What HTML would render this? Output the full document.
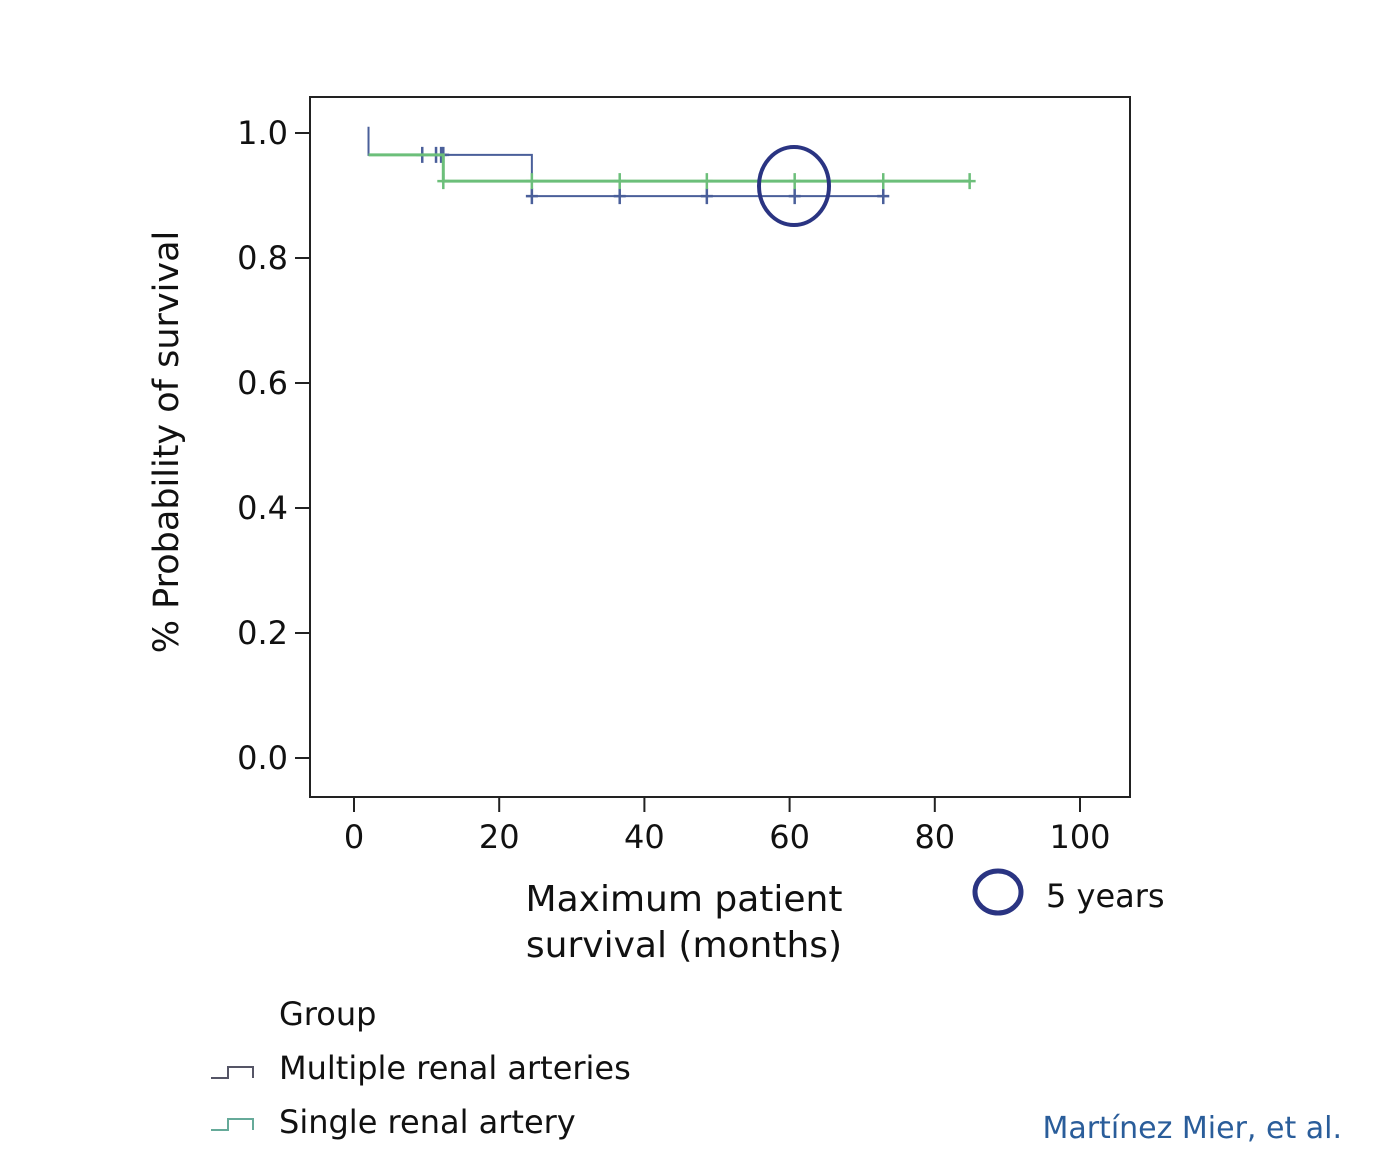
<!DOCTYPE html>
<html><head><meta charset="utf-8"><style>
body{margin:0;background:#fff;}
svg{display:block;font-family:"DejaVu Sans","Liberation Sans",sans-serif;}
</style></head><body>
<svg id="chart" width="1377" height="1155" viewBox="0 0 1377 1155">
<rect x="310" y="97" width="820" height="700" fill="none" stroke="#222" stroke-width="2"/>
<g id="axes"></g>
<g id="series"></g>
<ellipse cx="794" cy="186" rx="35" ry="39" fill="none" stroke="#2a3482" stroke-width="4"/>
<text x="0" y="0" transform="translate(178 442) rotate(-90)" font-size="35" fill="#111" text-anchor="middle" font-weight="500">% Probability of survival</text>
<text x="684" y="911" font-size="36" fill="#111" text-anchor="middle" font-weight="500"><tspan x="684">Maximum patient</tspan><tspan x="684" dy="46">survival (months)</tspan></text>
<ellipse cx="998" cy="892" rx="23" ry="21" fill="none" stroke="#2a3482" stroke-width="5"/>
<text x="1046" y="907" font-size="32" fill="#111">5 years</text>
<text x="279" y="1025" font-size="32" fill="#111">Group</text>
<path d="M211 1078 H228 V1067 H253 V1078" fill="none" stroke="#556" stroke-width="2"/>
<text x="279" y="1079" font-size="32" fill="#111">Multiple renal arteries</text>
<path d="M211 1130 H228 V1119 H253 V1130" fill="none" stroke="#6a9" stroke-width="2"/>
<text x="279" y="1133" font-size="32" fill="#111">Single renal artery</text>
<text x="1342" y="1138" font-size="30" fill="#2a5d9a" text-anchor="end">Martínez Mier, et al.</text>
</svg>
<script>
const xTicks=[0,20,40,60,80,100];
const yTicks=[0.0,0.2,0.4,0.6,0.8,1.0];
const multStart=[2,1.01];
const multDropT=[2,24.5];
const multDropS=[0.965,0.899];
const multEnd=72.9;
const multCensorT=[9.4,11.3,12,12.3,24.5,36.6,48.6,60.7,72.9];
const multCensorS=[0.965,0.965,0.965,0.965,0.899,0.899,0.899,0.899,0.899];
const singStart=[2,0.965];
const singDropT=[12.3];
const singDropS=[0.923];
const singEnd=84.8;
const singCensorT=[12.3,24.5,36.6,48.6,60.7,72.9,84.8];
const singCensorS=[0.923,0.923,0.923,0.923,0.923,0.923,0.923];
const X=v=>354+v*7.26, Y=v=>758-v*625;
const NS="http://www.w3.org/2000/svg";
function mk(t,a,p){const e=document.createElementNS(NS,t);for(const k in a)e.setAttribute(k,a[k]);p.appendChild(e);return e;}
const ax=document.getElementById('axes'), se=document.getElementById('series');
xTicks.forEach(v=>{
 const l=mk('line',{x1:X(v),x2:X(v),y1:797,y2:812,stroke:'#222','stroke-width':2},ax);
 
 
 const t=mk('text',{x:X(v),y:848,'font-size':32,'text-anchor':'middle',fill:'#111'},ax);t.textContent=v;
 
 
});
yTicks.forEach(v=>{
 const l=mk('line',{x1:295,x2:310,y1:Y(v),y2:Y(v),stroke:'#222','stroke-width':2},ax);
 
 
 const t=mk('text',{x:288,y:Y(v)+11,'font-size':32,'text-anchor':'end',fill:'#111'},ax);t.textContent=v.toFixed(1);
 
 
});
function curve(st,DT,DS,end,CT,CS,col,name,w){
 let d='M'+X(st[0])+' '+Y(st[1]);
 for(let i=0;i<DT.length;i++){d+=' H'+X(DT[i])+' V'+Y(DS[i]);}
 d+=' H'+X(end);
 const p=mk('path',{d:d,fill:'none',stroke:col,'stroke-width':w},se);
 
 
 CT.forEach((t,i)=>{
  const c=mk('path',{d:'M'+X(t)+' '+(Y(CS[i])-8)+' v16 M'+(X(t)-6)+' '+Y(CS[i])+' h12',stroke:col,'stroke-width':2.5,fill:'none'},se);
  
  
 });
}
curve(multStart,multDropT,multDropS,multEnd,multCensorT,multCensorS,'#4a5f9a','multiple',2);
curve(singStart,singDropT,singDropS,singEnd,singCensorT,singCensorS,'#6cbf7a','single',3);
</script>
</body></html>
